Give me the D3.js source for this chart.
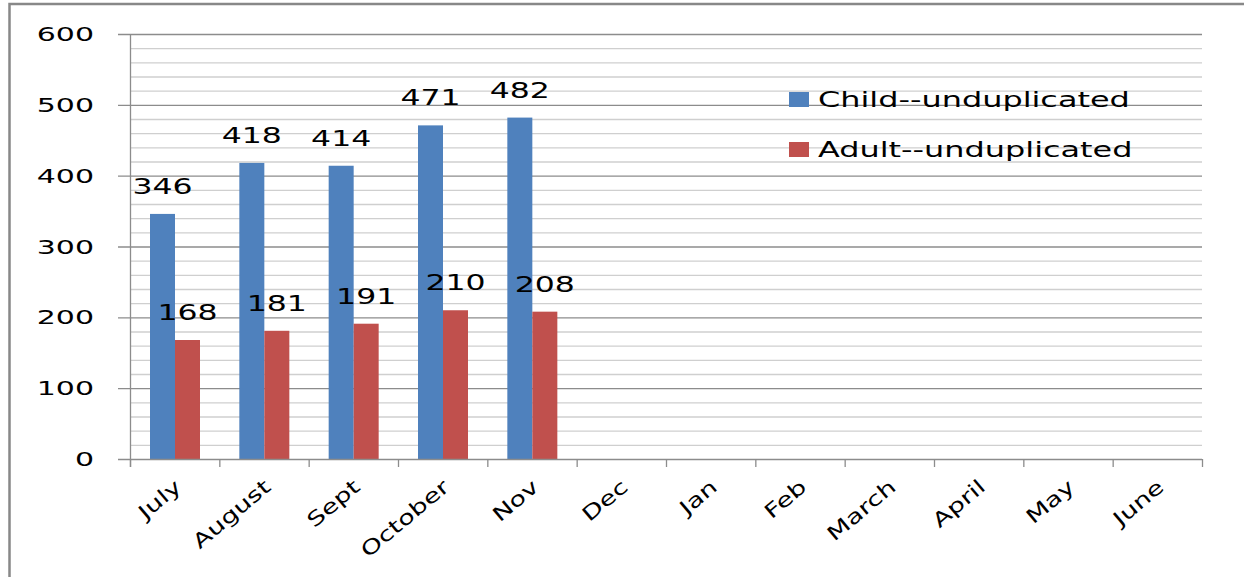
<!DOCTYPE html>
<html>
<head>
<meta charset="utf-8">
<script src="https://cdn.jsdelivr.net/npm/d3@7"></script>
<style>
  body { margin: 0; background: #fff; }
  text { font-family: "DejaVu Sans", Verdana, sans-serif; fill: #000; }
</style>
</head>
<body>
<svg id="chart" width="1244" height="577"></svg>
<script>
const months = ["July", "August", "Sept", "October", "Nov", "Dec", "Jan", "Feb", "March", "April", "May", "June"];
const seriesNames = ["Child--unduplicated", "Adult--unduplicated"];
const childValues = [346, 418, 414, 471, 482, null, null, null, null, null, null, null];
const adultValues = [168, 181, 191, 210, 208, null, null, null, null, null, null, null];
const colors = ["#4F81BD", "#C0504D"];

const svg = d3.select("#chart");
const stretch = 1.5; // the reference text is widened horizontally

// outer frame
svg.append("rect")
    .attr("x", 9.5).attr("y", 4)
    .attr("width", 1250).attr("height", 600)
    .attr("fill", "none")
    .attr("stroke", "#888")
    .attr("stroke-width", 2.5);

const plot = { left: 130, right: 1202, top: 34, bottom: 459 };

const x = d3.scaleBand()
    .domain(months)
    .range([plot.left, plot.right]);

const y = d3.scaleLinear()
    .domain([0, 600])
    .range([plot.bottom, plot.top]);

const inner = d3.scaleBand()
    .domain([0, 1])
    .range([20, 70]);

// minor gridlines
svg.append("g")
    .selectAll("line")
    .data(d3.range(0, 601, 20).filter(v => v % 100 !== 0))
    .join("line")
    .attr("x1", plot.left).attr("x2", plot.right)
    .attr("y1", d => y(d) + 0.5).attr("y2", d => y(d) + 0.5)
    .attr("stroke", "#cfcfcf")
    .attr("stroke-width", 1.3);

// major gridlines with ticks
svg.append("g")
    .selectAll("line")
    .data(d3.range(100, 601, 100))
    .join("line")
    .attr("x1", plot.left - 12).attr("x2", plot.right)
    .attr("y1", d => y(d) + 0.5).attr("y2", d => y(d) + 0.5)
    .attr("stroke", "#8c8c8c")
    .attr("stroke-width", 1.3);

// y axis line
svg.append("line")
    .attr("x1", plot.left + 0.5).attr("x2", plot.left + 0.5)
    .attr("y1", plot.top).attr("y2", plot.bottom + 8)
    .attr("stroke", "#8c8c8c").attr("stroke-width", 1.3);

// bars
const series = [childValues, adultValues];
series.forEach((vals, si) => {
    svg.append("g")
        .selectAll("rect")
        .data(months.map((m, i) => ({ m, v: vals[i] })).filter(d => d.v != null))
        .join("rect")
        .attr("x", d => x(d.m) + inner(si))
        .attr("width", inner.bandwidth())
        .attr("y", d => y(d.v))
        .attr("height", d => y(0) - y(d.v))
        .attr("fill", colors[si]);
});

// x axis line and ticks
svg.append("line")
    .attr("x1", plot.left - 12).attr("x2", plot.right)
    .attr("y1", plot.bottom + 0.5).attr("y2", plot.bottom + 0.5)
    .attr("stroke", "#8c8c8c").attr("stroke-width", 1.3);

svg.append("g")
    .selectAll("line")
    .data(months.map(m => x(m)).concat([plot.right]))
    .join("line")
    .attr("x1", d => d + 0.5).attr("x2", d => d + 0.5)
    .attr("y1", plot.bottom).attr("y2", plot.bottom + 8)
    .attr("stroke", "#8c8c8c").attr("stroke-width", 1.3);

// y tick labels
svg.append("g")
    .selectAll("text")
    .data(d3.range(0, 601, 100))
    .join("text")
    .attr("transform", d => `translate(94,${y(d) + 7}) scale(${stretch},1)`)
    .attr("text-anchor", "end")
    .attr("font-size", 20)
    .text(d => d);

// x tick labels
svg.append("g")
    .selectAll("text")
    .data(months)
    .join("text")
    .attr("transform", d => `translate(${x(d) + x.bandwidth() / 2 + 8},${plot.bottom + 30}) rotate(-40) scale(1.35,1)`)
    .attr("text-anchor", "end")
    .attr("font-size", 20)
    .text(d => d);

// value labels
series.forEach((vals, si) => {
    svg.append("g")
        .selectAll("text")
        .data(months.map((m, i) => ({ m, v: vals[i] })).filter(d => d.v != null))
        .join("text")
        .attr("transform", d => `translate(${x(d.m) + inner(si) + inner.bandwidth() / 2},${y(d.v) - 20}) scale(${stretch},1)`)
        .attr("text-anchor", "middle")
        .attr("font-size", 21)
        .text(d => d.v);
});

// legend
const legend = svg.append("g")
    .selectAll("g")
    .data(seriesNames)
    .join("g")
    .attr("transform", (d, i) => `translate(789,${92 + i * 50})`);

legend.append("rect")
    .attr("width", 20).attr("height", 15)
    .attr("fill", (d, i) => colors[i]);

legend.append("text")
    .attr("transform", `translate(29,15) scale(1.52,1)`)
    .attr("font-size", 21)
    .text(d => d);
</script>
</body>
</html>
